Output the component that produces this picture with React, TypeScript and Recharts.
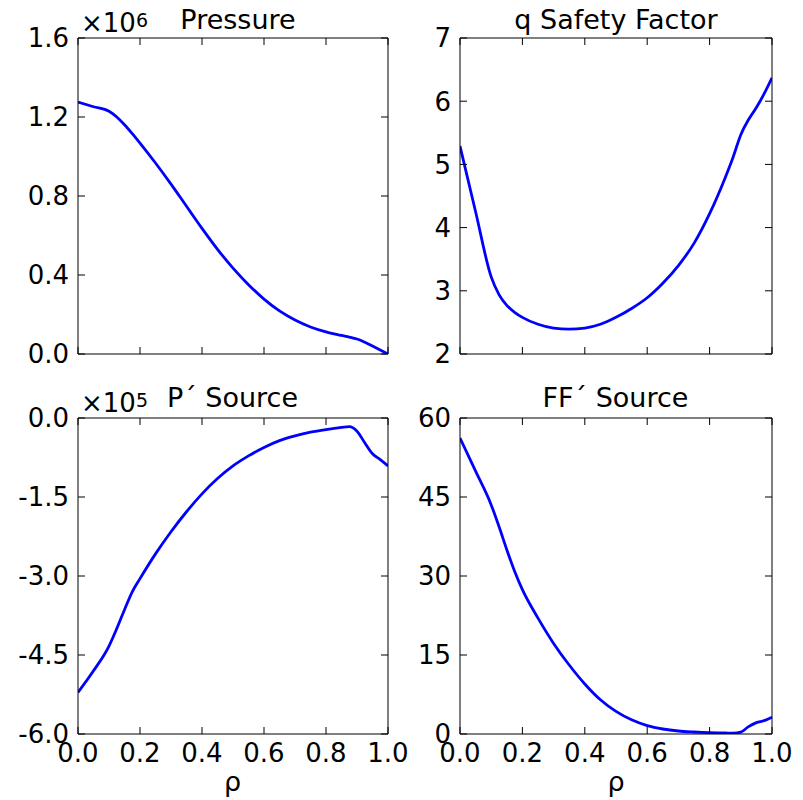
import React from "react";
import { LineChart, Line, XAxis, YAxis } from "recharts";

// radial coordinate shared by every profile
const rho = [0, 0.05, 0.1, 0.125, 0.15, 0.175, 0.2, 0.25, 0.3, 0.35, 0.4, 0.45, 0.5, 0.55, 0.6, 0.65, 0.7, 0.75, 0.8, 0.85, 0.875, 0.9, 0.925, 0.95, 0.975, 1.0];

// pressure, in units of 1e6
const pressure = [1.276, 1.252, 1.229, 1.2, 1.161, 1.116, 1.068, 0.967, 0.86, 0.748, 0.636, 0.53, 0.435, 0.351, 0.278, 0.218, 0.172, 0.137, 0.112, 0.094, 0.086, 0.076, 0.06, 0.04, 0.02, 0];
// safety factor
const qFactor = [5.29, 4.25, 3.22, 2.94, 2.77, 2.66, 2.58, 2.47, 2.41, 2.395, 2.41, 2.47, 2.58, 2.72, 2.89, 3.12, 3.4, 3.75, 4.22, 4.79, 5.11, 5.47, 5.71, 5.9, 6.12, 6.37];
// P' source, in units of 1e5
const pPrime = [-5.21, -4.8, -4.33, -4.0, -3.64, -3.3, -3.05, -2.58, -2.16, -1.78, -1.44, -1.15, -0.91, -0.72, -0.56, -0.43, -0.34, -0.27, -0.22, -0.18, -0.165, -0.25, -0.47, -0.68, -0.79, -0.91];
// FF' source
const ffPrime = [56.2, 49.9, 43.5, 39.4, 35.0, 30.9, 27.4, 22.0, 17.2, 13.1, 9.5, 6.5, 4.3, 2.7, 1.6, 0.95, 0.57, 0.38, 0.25, 0.19, 0.15, 0.35, 1.4, 2.15, 2.55, 3.2];

const xTicks = [0, 0.2, 0.4, 0.6, 0.8, 1.0];
const pressureTicks = [0, 0.4, 0.8, 1.2, 1.6];
const qTicks = [2, 3, 4, 5, 6, 7];
const pPrimeTicks = [-6, -4.5, -3, -1.5, 0];
const ffTicks = [0, 15, 30, 45, 60];

const data = rho.map((r, i) => ({ rho: r, p: pressure[i], q: qFactor[i], pp: pPrime[i], ff: ffPrime[i] }));

const FONT = "'DejaVu Sans', sans-serif";
const H = 420;
const PT = 38;
const PB = 354;
const TICK = 7;

const oneDec = (v: number) => v.toFixed(1);
const noDec = (v: number) => String(v);

type PanelProps = {
  left: number;
  top: number;
  width: number;
  yWidth: number;
  marginLeft: number;
  marginRight: number;
  dataKey: string;
  yTicks: number[];
  fmt: (v: number) => string;
  xLabels: boolean;
};

const Panel = (p: PanelProps) => {
  const pl = p.marginLeft + p.yWidth;
  const pr = p.width - p.marginRight - 1;
  const yDomain = [p.yTicks[0], p.yTicks[p.yTicks.length - 1]];

  const leftTick = (t: any) => (
    <g>
      <line x1={pl} x2={pl + TICK} y1={t.y} y2={t.y} stroke="#000" />
      <text x={pl - 9} y={t.y} dy="0.36em" textAnchor="end" fontSize={26} fontFamily={FONT} fill="#000">
        {p.fmt(t.payload.value)}
      </text>
    </g>
  );
  const rightTick = (t: any) => <line x1={pr} x2={pr - TICK} y1={t.y} y2={t.y} stroke="#000" />;
  const topTick = (t: any) => <line x1={t.x} x2={t.x} y1={PT} y2={PT + TICK} stroke="#000" />;
  const bottomTick = (t: any) => (
    <g>
      <line x1={t.x} x2={t.x} y1={PB} y2={PB - TICK} stroke="#000" />
      {p.xLabels && (
        <text x={t.x} y={PB + 28} textAnchor="middle" fontSize={26} fontFamily={FONT} fill="#000">
          {t.payload.value.toFixed(1)}
        </text>
      )}
    </g>
  );

  return (
    <div style={{ position: "absolute", left: p.left, top: p.top }}>
      <LineChart
        width={p.width}
        height={H}
        data={data}
        margin={{ top: PT - 1, right: p.marginRight, bottom: H - PB - 30, left: p.marginLeft }}
      >
        <XAxis xAxisId="b" type="number" dataKey="rho" domain={[0, 1]} ticks={xTicks} interval={0} height={30}
          axisLine={{ stroke: "#000" }} tickLine={false} tick={bottomTick} allowDataOverflow />
        <XAxis xAxisId="t" orientation="top" type="number" dataKey="rho" domain={[0, 1]} ticks={xTicks} interval={0} height={1}
          axisLine={{ stroke: "#000" }} tickLine={false} tick={topTick} allowDataOverflow />
        <YAxis yAxisId="l" type="number" domain={yDomain} ticks={p.yTicks} interval={0} width={p.yWidth}
          axisLine={{ stroke: "#000" }} tickLine={false} tick={leftTick} allowDataOverflow />
        <YAxis yAxisId="r" orientation="right" type="number" domain={yDomain} ticks={p.yTicks} interval={0} width={1}
          axisLine={{ stroke: "#000" }} tickLine={false} tick={rightTick} allowDataOverflow />
        <Line xAxisId="b" yAxisId="l" type="monotone" dataKey={p.dataKey} stroke="#0000ff" strokeWidth={2.8}
          dot={false} isAnimationActive={false} />
      </LineChart>
    </div>
  );
};

export default function App() {
  return (
    <div style={{ position: "absolute", left: 0, top: 0, width: 803, height: 800, background: "#fff", overflow: "hidden" }}>
      <Panel left={0} top={0} width={420} yWidth={60} marginLeft={18} marginRight={31} dataKey="p"
        yTicks={pressureTicks} fmt={oneDec} xLabels={false} />
      <Panel left={400} top={0} width={403} yWidth={50} marginLeft={10} marginRight={30} dataKey="q"
        yTicks={qTicks} fmt={noDec} xLabels={false} />
      <Panel left={0} top={380} width={420} yWidth={60} marginLeft={18} marginRight={31} dataKey="pp"
        yTicks={pPrimeTicks} fmt={oneDec} xLabels={true} />
      <Panel left={400} top={380} width={403} yWidth={50} marginLeft={10} marginRight={30} dataKey="ff"
        yTicks={ffTicks} fmt={noDec} xLabels={true} />
      <svg width={803} height={800} style={{ position: "absolute", left: 0, top: 0, pointerEvents: "none" }}
        fontFamily={FONT} fill="#000">
        <text x={81} y={31.5} fontSize={26}>
          ×10<tspan fontSize={19} dy={-5}>6</tspan>
        </text>
        <text x={238} y={28.5} fontSize={27} textAnchor="middle">Pressure</text>
        <text x={616} y={29} fontSize={27} textAnchor="middle">q Safety Factor</text>
        <text x={81} y={411.5} fontSize={26}>
          ×10<tspan fontSize={19} dy={-5}>5</tspan>
        </text>
        <text x={232.5} y={406.7} fontSize={27} textAnchor="middle">P´ Source</text>
        <text x={615.5} y={406.7} fontSize={27} textAnchor="middle">FF´ Source</text>
        <text x={232.5} y={791} fontSize={27} textAnchor="middle">ρ</text>
        <text x={616} y={791} fontSize={27} textAnchor="middle">ρ</text>
      </svg>
    </div>
  );
}
